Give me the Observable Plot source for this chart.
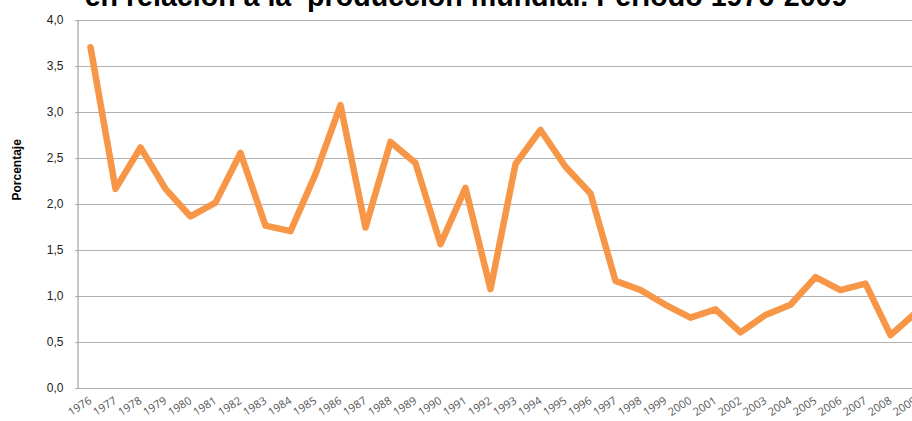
<!DOCTYPE html>
<html><head><meta charset="utf-8">
<script src="https://cdn.jsdelivr.net/npm/d3@7"></script>
<script src="https://cdn.jsdelivr.net/npm/@observablehq/plot@0.6"></script>
<style>
body{margin:0;background:#fff;overflow:hidden;}
#wrap{position:relative;width:912px;height:421px;overflow:hidden;background:#fff;}
#title{position:absolute;left:10px;width:912px;text-align:center;top:-18px;font:bold 28.6px "Liberation Sans",Arial,sans-serif;line-height:29px;white-space:pre;color:#000;}
</style></head><body>
<div id="wrap"><div id="title"></div><div id="chart"></div></div>
<script>
const titleText = "en relación a la  producción mundial. Período 1976-2009";
const years = ["1976","1977","1978","1979","1980","1981","1982","1983","1984","1985","1986","1987","1988","1989","1990","1991","1992","1993","1994","1995","1996","1997","1998","1999","2000","2001","2002","2003","2004","2005","2006","2007","2008","2009"];
const values = [3.71,2.17,2.62,2.17,1.87,2.02,2.56,1.77,1.71,2.33,3.08,1.75,2.68,2.45,1.57,2.18,1.08,2.44,2.81,2.41,2.12,1.17,1.07,0.91,0.77,0.86,0.61,0.80,0.91,1.21,1.07,1.14,0.58,0.82];
const yTicks = [0,0.5,1,1.5,2,2.5,3,3.5,4];
const yLabel = "Porcentaje";

document.getElementById("title").textContent = titleText;
const data = years.map((y,i)=>({year:y, value:values[i]}));

const chart = Plot.plot({
  width: 912, height: 421,
  marginLeft: 75, marginRight: -17, marginTop: 20, marginBottom: 33,
  style: {fontFamily: '"Liberation Sans", Arial, sans-serif', background: "#fff"},
  x: {type: "point", domain: years, padding: 0.5},
  y: {domain: [0, 4]},
  marks: [
    Plot.ruleY(yTicks, {stroke: "#b0b0b0", strokeWidth: 1.2}),
    Plot.ruleX([years[0]], {dx: -12.5, stroke: "#a8a8a8", strokeWidth: 1.3}),
    Plot.axisY({ticks: yTicks, tickSize: 0, tickPadding: 12, fontSize: 12, fill: "#222",
      tickFormat: d => d.toFixed(1).replace(".", ","), label: null}),
    Plot.axisX({tickSize: 0, tickPadding: 11, tickRotate: -33, fontSize: 11, fill: "#555",
      fontFamily: '"Open Sans", "DejaVu Sans", sans-serif', label: null}),
    Plot.text([yLabel], {text: d => d, frameAnchor: "left", rotate: -90, dx: -58, dy: -4,
      fontWeight: "bold", fontSize: 12, fill: "#000"}),
    Plot.line(data, {x: "year", y: "value", stroke: "#F79646", strokeWidth: 6.5,
      strokeLinejoin: "round", strokeLinecap: "round"})
  ]
});
document.getElementById("chart").appendChild(chart);
</script>
</body></html>
